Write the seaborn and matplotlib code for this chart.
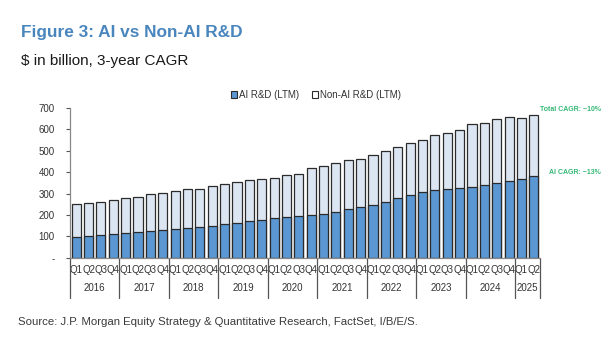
import matplotlib
matplotlib.use("Agg")
import matplotlib.pyplot as plt
import matplotlib.transforms as mtransforms
from matplotlib.patches import Patch
import seaborn as sns
import pandas as pd

years = ["2016", "2017", "2018", "2019", "2020", "2021", "2022", "2023", "2024", "2025"]
quarters_per_year = [4, 4, 4, 4, 4, 4, 4, 4, 4, 2]
quarter_labels = ["Q1", "Q2", "Q3", "Q4"]

ai_rd = [96, 101, 106, 110,
         115, 121, 126, 131,
         136, 140, 144, 150,
         156, 164, 170, 178,
         185, 188, 193, 198,
         206, 214, 226, 235,
         248, 262, 278, 293,
         306, 315, 320, 325,
         331, 341, 349, 358,
         368, 381]
non_ai_rd = [153, 156, 156, 160,
             162, 163, 170, 172,
             174, 180, 179, 187,
             189, 188, 194, 188,
             190, 197, 199, 220,
             223, 229, 231, 227,
             233, 235, 238, 242,
             244, 257, 262, 271,
             292, 290, 299, 301,
             285, 286]

y_ticks = [0, 100, 200, 300, 400, 500, 600, 700]
y_tick_labels = ["-", "100", "200", "300", "400", "500", "600", "700"]

periods, qlabels = [], []
for y, n in zip(years, quarters_per_year):
    for q in quarter_labels[:n]:
        periods.append(f"{y}{q}")
        qlabels.append(q)

df = pd.DataFrame({"period": periods, "ai": ai_rd, "non_ai": non_ai_rd})
df["total"] = df["ai"] + df["non_ai"]

sns.set_theme(style="white")
plt.rcParams["font.family"] = ["Liberation Sans", "DejaVu Sans"]

AI_COLOR = "#5B97D3"
NON_COLOR = "#DCE6F2"
EDGE = "#2b2b2b"
GREEN = "#35B876"

fig = plt.figure(figsize=(6.15, 3.41), dpi=100)
ax = fig.add_axes([70 / 615, 1 - 257.7 / 341, 470 / 615, 149.7 / 341])

sns.barplot(data=df, x="period", y="total", color=NON_COLOR, saturation=1,
            width=0.74, edgecolor=EDGE, linewidth=0.9, ax=ax, order=periods)
sns.barplot(data=df, x="period", y="ai", color=AI_COLOR, saturation=1,
            width=0.74, edgecolor=EDGE, linewidth=0.9, ax=ax, order=periods)

ax.set_xlim(-0.5, len(periods) - 0.5)
ax.set_ylim(0, 700)
ax.set_yticks(y_ticks)
ax.set_yticklabels(y_tick_labels)
ax.set_xlabel("")
ax.set_ylabel("")
ax.set_xticks(range(len(periods)))
ax.set_xticklabels(qlabels)
ax.tick_params(axis="x", length=0, pad=5, labelsize=7, colors="#333333")
ax.tick_params(axis="y", length=3, width=0.8, direction="out", left=True,
               labelsize=7, colors="#555555", pad=8)
ax.tick_params(axis="y", labelcolor="#333333")
for s in ["top", "right"]:
    ax.spines[s].set_visible(False)
ax.spines["left"].set_color("#888888")
ax.spines["left"].set_linewidth(0.9)
ax.spines["bottom"].set_color("#888888")
ax.spines["bottom"].set_linewidth(0.9)

# year separators and labels
trans = mtransforms.blended_transform_factory(ax.transData, ax.transAxes)
pos = -0.5
bounds = [pos]
for n in quarters_per_year:
    pos += n
    bounds.append(pos)
for b in bounds:
    ax.plot([b, b], [0, -0.27], transform=trans, color="#555555", lw=0.9, clip_on=False)
for i, y in enumerate(years):
    mid = (bounds[i] + bounds[i + 1]) / 2
    ax.text(mid, -0.205, y, transform=trans, ha="center", va="center",
            fontsize=7, color="#333333")

# legend
handles = [Patch(facecolor=AI_COLOR, edgecolor=EDGE, lw=0.8, label="AI R&D (LTM)"),
           Patch(facecolor="white", edgecolor=EDGE, lw=0.8, label="Non-AI R&D (LTM)")]
fig.legend(handles=handles, loc="center", bbox_to_anchor=(316 / 615, 1 - 95 / 341),
           ncol=2, frameon=False, fontsize=7, handlelength=0.6, handleheight=0.6,
           handletextpad=0.2, columnspacing=1.4, labelcolor="#333333")

# annotations
fig.text(570 / 615, 1 - 110 / 341, "Total CAGR: ~10%", ha="center", va="center",
         fontsize=5, color=GREEN, fontweight="bold")
fig.text(575 / 615, 1 - 173 / 341, "AI CAGR: ~13%", ha="center", va="center",
         fontsize=5, color=GREEN, fontweight="bold")

# titles
fig.text(21 / 615, 1 - 32 / 341, "Figure 3: AI vs Non-AI R&D", ha="left", va="center",
         fontsize=12.4, color="#4A86BE", fontweight="bold")
fig.text(21 / 615, 1 - 61 / 341, "$ in billion, 3-year CAGR", ha="left", va="center",
         fontsize=11, color="#1a1a1a")
fig.text(18 / 615, 1 - 322 / 341,
         "Source: J.P. Morgan Equity Strategy & Quantitative Research, FactSet, I/B/E/S.",
         ha="left", va="center", fontsize=8.2, color="#3a3a3a")

fig.savefig("out.png", dpi=100)
